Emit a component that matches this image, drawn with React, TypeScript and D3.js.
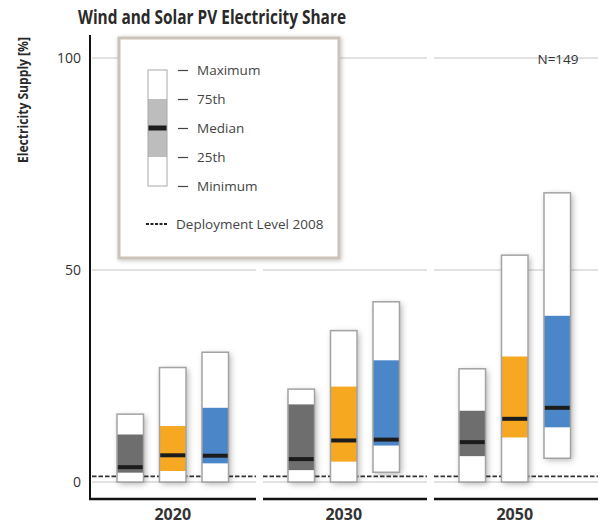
import React from "react";
import * as d3 from "d3";

// ---- data ----
const years = ["2020", "2030", "2050"];
const scenarios = ["Baselines", "Cat. III + IV", "Cat. I + II"];
const scenarioColors = ["#6e6e6e", "#f6a821", "#4b87c8"];
// values indexed [scenario][year]
const maxValues = [
  [16.0, 21.9, 26.7],
  [27.0, 35.7, 53.5],
  [30.6, 42.5, 68.2],
];
const q3Values = [
  [11.2, 18.3, 16.8],
  [13.2, 22.5, 29.6],
  [17.5, 28.7, 39.2],
];
const medianValues = [
  [3.5, 5.4, 9.4],
  [6.3, 9.8, 14.9],
  [6.2, 10.0, 17.5],
];
const q1Values = [
  [2.2, 2.8, 6.1],
  [2.6, 4.8, 10.5],
  [4.4, 8.6, 12.9],
];
const minValues = [
  [0, 0, 0],
  [0, 0, 0],
  [0, 2.3, 5.6],
];
const deployment2008 = 1.2;
const yTicks = [0, 50, 100];
const gridValues = [0, 50, 100];
const legendItems = ["Maximum", "75th", "Median", "25th", "Minimum"];
const legendLevels = [100, 75, 50, 25, 0];
const sampleCount = "N=149";

const W = 604;
const H = 524;
const FONT = "'Open Sans', 'Noto Sans', sans-serif";

export default function App() {
  const y = d3.scaleLinear().domain([0, 100]).range([482, 58]);
  const x0 = d3.scaleBand<string>().domain(years).range([92, 598]).paddingInner(0.041).paddingOuter(0);
  const x1 = d3
    .scaleBand<number>()
    .domain(scenarios.map((_, i) => i))
    .range([25, 136.5])
    .paddingInner(0.376)
    .paddingOuter(0);
  const bw = x1.bandwidth();

  // legend scale
  const ly = d3.scaleLinear().domain([0, 100]).range([186, 70]);

  return (
    <svg
      width={W}
      height={H}
      style={{ position: "absolute", left: 0, top: 0, background: "#fff" }}
      fontFamily={FONT}
    >
      <defs>
        <filter id="shadow" x="-50%" y="-20%" width="200%" height="140%">
          <feDropShadow dx="2" dy="2" stdDeviation="3" floodColor="#000" floodOpacity="0.3" />
        </filter>
        <filter id="boxshadow" x="-10%" y="-10%" width="120%" height="120%">
          <feDropShadow dx="1" dy="1" stdDeviation="2" floodColor="#000" floodOpacity="0.25" />
        </filter>
      </defs>

      {/* title */}
      <text x={78} y={24} fontSize={19} fontWeight="bold" fill="#2a2a2a" textLength={268} lengthAdjust="spacingAndGlyphs">
        Wind and Solar PV Electricity Share
      </text>

      {/* y label */}
      <text
        transform={`translate(28,100) rotate(-90)`}
        textAnchor="middle"
        fontSize={14}
        fontWeight="bold"
        fill="#2a2a2a"
        textLength={126}
        lengthAdjust="spacingAndGlyphs"
      >
        Electricity Supply [%]
      </text>

      {/* y tick labels */}
      {yTicks.map((t) => (
        <text key={t} x={81} y={y(t)} dy="0.36em" textAnchor="end" fontSize={14} fill="#333">
          {t}
        </text>
      ))}

      {/* gridlines per group */}
      {years.map((yr) =>
        gridValues.map((g) => (
          <line
            key={yr + g}
            x1={x0(yr)!}
            x2={x0(yr)! + x0.bandwidth()}
            y1={y(g)}
            y2={y(g)}
            stroke="#c4c4c4"
            strokeWidth={1}
          />
        ))
      )}
      {/* deployment 2008 dashed */}
      {years.map((yr) => (
        <line
          key={"dep" + yr}
          x1={x0(yr)!}
          x2={x0(yr)! + x0.bandwidth()}
          y1={y(deployment2008) - 0.5}
          y2={y(deployment2008) - 0.5}
          stroke="#333"
          strokeWidth={1.6}
          strokeDasharray="4.5 2"
        />
      ))}

      {/* N label */}
      <text x={558} y={y(100)} dy="0.45em" textAnchor="middle" fontSize={13.5} fill="#333">
        {sampleCount}
      </text>

      {/* bars */}
      {years.map((yr, yi) =>
        scenarios.map((sc, si) => {
          const bx = x0(yr)! + x1(si)!;
          const yMax = y(maxValues[si][yi]);
          const yMin = y(minValues[si][yi]);
          const yQ3 = y(q3Values[si][yi]);
          const yQ1 = y(q1Values[si][yi]);
          const yMed = y(medianValues[si][yi]);
          return (
            <g key={yr + sc}>
              <rect x={bx} y={yMax} width={bw} height={yMin - yMax} fill="#fff" filter="url(#shadow)" />
              <rect x={bx} y={yQ3} width={bw} height={yQ1 - yQ3} fill={scenarioColors[si]} />
              <rect x={bx} y={yMed - 2} width={bw} height={4} fill="#1c1c1c" />
              <rect x={bx} y={yMax} width={bw} height={yMin - yMax} fill="none" stroke="#a3a3a3" strokeWidth={1.5} />
            </g>
          );
        })
      )}

      {/* y axis */}
      <line x1={90} x2={90} y1={35} y2={500} stroke="#111" strokeWidth={2} />
      {/* x axis segments */}
      {years.map((yr, i) => (
        <line
          key={"ax" + yr}
          x1={i === 0 ? 89 : x0(yr)!}
          x2={x0(yr)! + x0.bandwidth()}
          y1={499}
          y2={499}
          stroke="#111"
          strokeWidth={2.5}
        />
      ))}
      {years.map((yr) => (
        <text
          key={"lbl" + yr}
          x={x0(yr)! + x1(1)! + bw / 2}
          y={520}
          textAnchor="middle"
          fontSize={16}
          fontWeight="bold"
          fill="#333"
        >
          {yr}
        </text>
      ))}

      {/* legend box */}
      <rect x={119} y={38} width={220} height={220} fill="#fff" stroke="#cbc3b9" strokeWidth={3} filter="url(#boxshadow)" />
      <rect x={148} y={ly(100)} width={19} height={ly(0) - ly(100)} fill="#fff" />
      <rect x={148} y={ly(75)} width={19} height={ly(25) - ly(75)} fill="#bdbdbd" />
      <rect x={148} y={ly(50) - 2.5} width={19} height={5} fill="#1c1c1c" />
      <rect x={148} y={ly(100)} width={19} height={ly(0) - ly(100)} fill="none" stroke="#a8a8a8" strokeWidth={1} />
      {legendItems.map((lab, i) => (
        <g key={lab}>
          <line x1={178} x2={188} y1={ly(legendLevels[i]) + 0.5} y2={ly(legendLevels[i]) + 0.5} stroke="#444" strokeWidth={1.2} />
          <text x={197} y={ly(legendLevels[i])} dy="0.36em" fontSize={13.5} fill="#444">
            {lab}
          </text>
        </g>
      ))}
      <line x1={146} x2={168} y1={224} y2={224} stroke="#222" strokeWidth={2} strokeDasharray="3 1.5" />
      <text x={176} y={224} dy="0.36em" fontSize={13.5} fill="#444">
        Deployment Level 2008
      </text>
    </svg>
  );
}
